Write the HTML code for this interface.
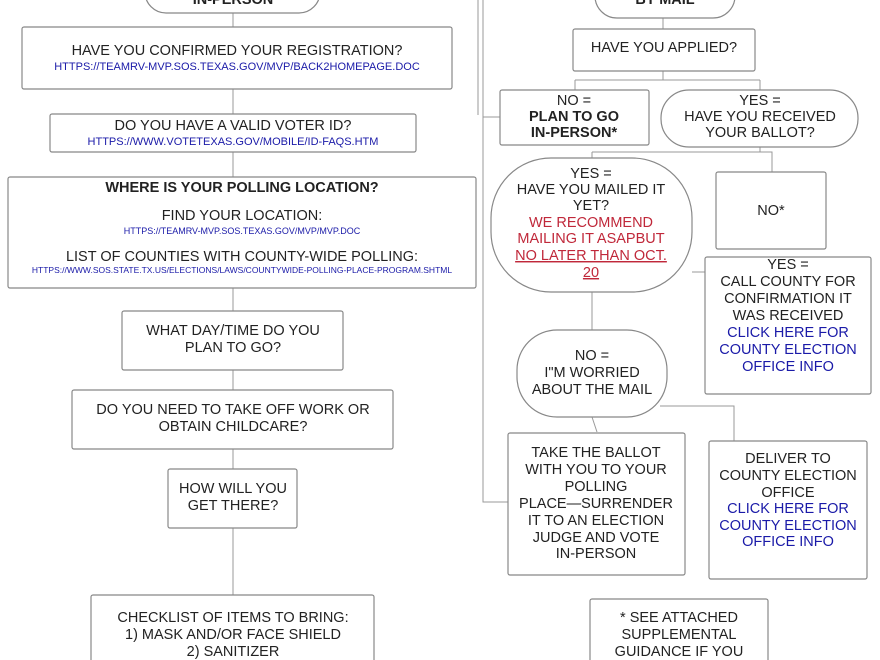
<!DOCTYPE html>
<html><head><meta charset="utf-8"><style>
html,body{margin:0;padding:0;background:#fff;width:880px;height:660px;overflow:hidden}
svg text{font-family:"Liberation Sans",sans-serif;font-size:14.5px;fill:#222;text-anchor:middle}
.b{fill:#1a1aa8}.r{fill:#c0283a}.s{font-size:11px}.t{font-size:8.5px}.bd{font-weight:bold}
rect{fill:#fff;stroke:#888;stroke-width:1.2}
line,polyline{stroke:#999;stroke-width:1;fill:none}
</style></head><body>
<svg width="880" height="660" viewBox="0 0 880 660" xmlns="http://www.w3.org/2000/svg">
<!-- connectors -->
<polyline points="233,13 233,27"/><polyline points="233,89 233,114"/><polyline points="233,152 233,177"/>
<polyline points="233,288 233,311"/><polyline points="233,370 233,390"/><polyline points="233,449 233,469"/>
<polyline points="233,528 233,595"/>
<line x1="478" y1="0" x2="478" y2="115"/>
<polyline points="483,0 483,502 508,502"/><polyline points="483,117 500,117"/>
<polyline points="663,18 663,29"/>
<polyline points="663,71 663,80"/><polyline points="575,80 760,80"/><polyline points="575,80 575,90"/><polyline points="760,80 760,90"/>
<polyline points="760,147 760,152"/><polyline points="592,152 760,152"/><polyline points="592,152 592,158"/><polyline points="760,152 772,152 772,172"/>
<polyline points="692,272 705,272"/>
<polyline points="592,292 592,330"/>
<polyline points="592,417 597,432"/><polyline points="660,406 734,406 734,441"/>
<!-- left -->
<rect x="145" y="-30" width="175" height="43" rx="21"/>
<text x="233" y="4" class="bd">IN-PERSON</text>
<rect x="22" y="27" width="430" height="62" rx="2"/>
<text x="237" y="55">HAVE YOU CONFIRMED YOUR REGISTRATION?</text>
<text x="237" y="70" class="b s">HTTPS://TEAMRV-MVP.SOS.TEXAS.GOV/MVP/BACK2HOMEPAGE.DOC</text>
<rect x="50" y="114" width="366" height="38" rx="2"/>
<text x="233" y="130">DO YOU HAVE A VALID VOTER ID?</text>
<text x="233" y="145" class="b s">HTTPS://WWW.VOTETEXAS.GOV/MOBILE/ID-FAQS.HTM</text>
<rect x="8" y="177" width="468" height="111" rx="2"/>
<text x="242" y="192" class="bd">WHERE IS YOUR POLLING LOCATION?</text>
<text x="242" y="220">FIND YOUR LOCATION:</text>
<text x="242" y="234" class="b" style="font-size:9px">HTTPS://TEAMRV-MVP.SOS.TEXAS.GOV/MVP/MVP.DOC</text>
<text x="242" y="261">LIST OF COUNTIES WITH COUNTY-WIDE POLLING:</text>
<text x="242" y="273" class="b t">HTTPS://WWW.SOS.STATE.TX.US/ELECTIONS/LAWS/COUNTYWIDE-POLLING-PLACE-PROGRAM.SHTML</text>
<rect x="122" y="311" width="221" height="59" rx="2"/>
<text x="233" y="335">WHAT DAY/TIME DO YOU</text><text x="233" y="352">PLAN TO GO?</text>
<rect x="72" y="390" width="321" height="59" rx="2"/>
<text x="233" y="414">DO YOU NEED TO TAKE OFF WORK OR</text><text x="233" y="431">OBTAIN CHILDCARE?</text>
<rect x="168" y="469" width="129" height="59" rx="2"/>
<text x="233" y="493">HOW WILL YOU</text><text x="233" y="510">GET THERE?</text>
<rect x="91" y="595" width="283" height="80" rx="2"/>
<text x="233" y="622">CHECKLIST OF ITEMS TO BRING:</text><text x="233" y="639">1) MASK AND/OR FACE SHIELD</text><text x="233" y="656">2) SANITIZER</text>
<!-- right -->
<rect x="595" y="-30" width="140" height="48" rx="22"/>
<text x="665" y="4" class="bd">BY MAIL</text>
<rect x="573" y="29" width="182" height="42" rx="2"/>
<text x="664" y="52">HAVE YOU APPLIED?</text>
<rect x="500" y="90" width="149" height="55" rx="2"/>
<text x="574" y="105">NO =</text><text x="574" y="121" class="bd">PLAN TO GO</text><text x="574" y="137" class="bd">IN-PERSON*</text>
<rect x="661" y="90" width="197" height="57" rx="28"/>
<text x="760" y="105">YES =</text><text x="760" y="121">HAVE YOU RECEIVED</text><text x="760" y="137">YOUR BALLOT?</text>
<rect x="491" y="158" width="201" height="134" rx="60"/>
<text x="591" y="178">YES =</text><text x="591" y="194">HAVE YOU MAILED IT</text><text x="591" y="210">YET?</text>
<text x="591" y="227" class="r">WE RECOMMEND</text><text x="591" y="243" class="r">MAILING IT ASAPBUT</text>
<text x="591" y="260" class="r" text-decoration="underline">NO LATER THAN OCT.</text><text x="591" y="277" class="r" text-decoration="underline">20</text>
<rect x="716" y="172" width="110" height="77" rx="2"/>
<text x="771" y="215">NO*</text>
<rect x="705" y="257" width="166" height="137" rx="2"/>
<text x="788" y="269">YES =</text><text x="788" y="286">CALL COUNTY FOR</text><text x="788" y="303">CONFIRMATION IT</text><text x="788" y="320">WAS RECEIVED</text>
<text x="788" y="337" class="b">CLICK HERE FOR</text><text x="788" y="354" class="b">COUNTY ELECTION</text><text x="788" y="371" class="b">OFFICE INFO</text>
<rect x="517" y="330" width="150" height="87" rx="40"/>
<text x="592" y="360">NO =</text><text x="592" y="377">I"M WORRIED</text><text x="592" y="394">ABOUT THE MAIL</text>
<rect x="508" y="433" width="177" height="142" rx="2"/>
<text x="596" y="457">TAKE THE BALLOT</text><text x="596" y="474">WITH YOU TO YOUR</text><text x="596" y="491">POLLING</text><text x="596" y="508">PLACE—SURRENDER</text><text x="596" y="525">IT TO AN ELECTION</text><text x="596" y="542">JUDGE AND VOTE</text><text x="596" y="558">IN-PERSON</text>
<rect x="709" y="441" width="158" height="138" rx="2"/>
<text x="788" y="463">DELIVER TO</text><text x="788" y="480">COUNTY ELECTION</text><text x="788" y="497">OFFICE</text>
<text x="788" y="513" class="b">CLICK HERE FOR</text><text x="788" y="530" class="b">COUNTY ELECTION</text><text x="788" y="546" class="b">OFFICE INFO</text>
<rect x="590" y="599" width="178" height="80" rx="2"/>
<text x="679" y="622">* SEE ATTACHED</text><text x="679" y="639">SUPPLEMENTAL</text><text x="679" y="656">GUIDANCE IF YOU</text>
</svg>
</body></html>
